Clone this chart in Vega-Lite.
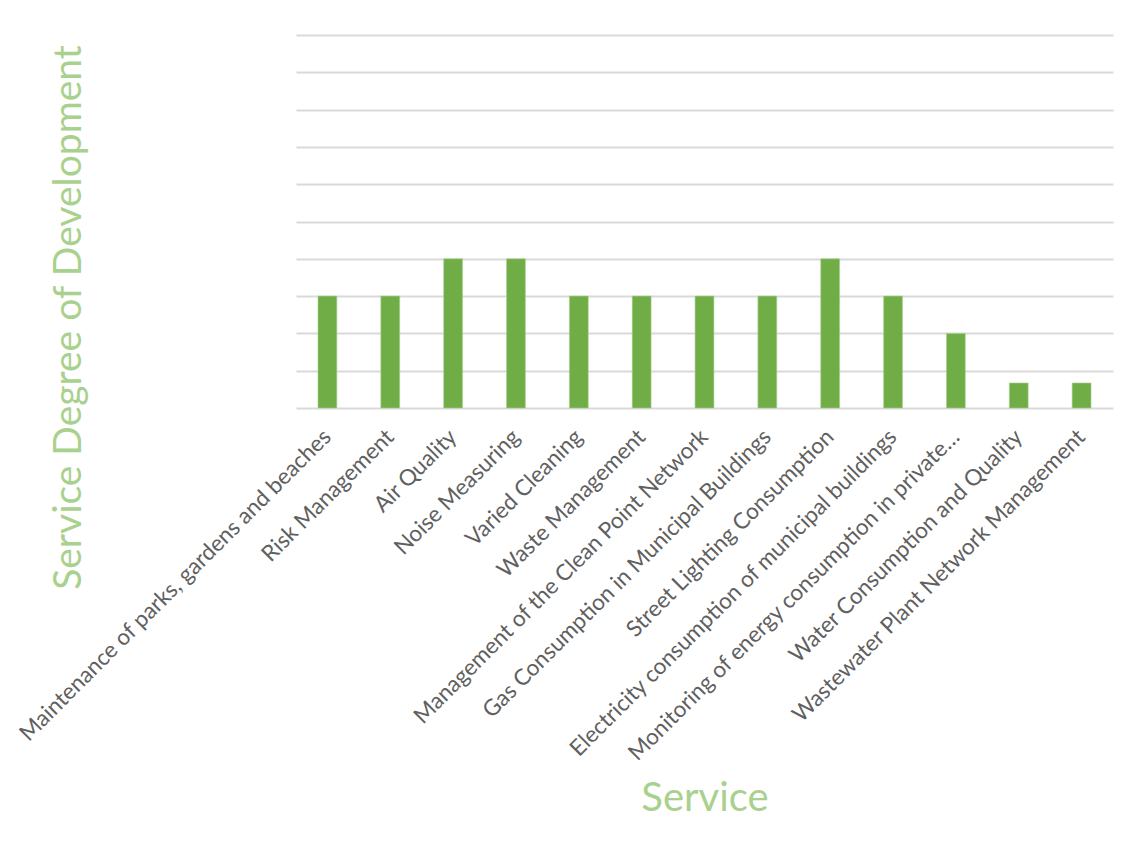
{
  "$schema": "https://vega.github.io/schema/vega-lite/v6.json",
  "width": 817,
  "height": 373,
  "autosize": {"type": "none"},
  "padding": {"left": 296, "top": 35, "right": 17, "bottom": 445},
  "background": "#ffffff",
  "config": {
    "view": {"stroke": null},
    "font": "Lato"
  },
  "data": {
    "values": [
      {"service": "Maintenance of parks, gardens and beaches", "degree": 3},
      {"service": "Risk Management", "degree": 3},
      {"service": "Air Quality", "degree": 4},
      {"service": "Noise Measuring", "degree": 4},
      {"service": "Varied Cleaning", "degree": 3},
      {"service": "Waste Management", "degree": 3},
      {"service": "Management of the Clean Point Network", "degree": 3},
      {"service": "Gas Consumption in Municipal Buildings", "degree": 3},
      {"service": "Street Lighting Consumption", "degree": 4},
      {"service": "Electricity consumption of municipal buildings", "degree": 3},
      {"service": "Monitoring of energy consumption in private…", "degree": 2},
      {"service": "Water Consumption and Quality", "degree": 0.67},
      {"service": "Wastewater Plant Network Management", "degree": 0.67}
    ]
  },
  "mark": {"type": "bar", "color": "#70AD47", "stroke": "#A9D18E", "strokeWidth": 0.6},
  "encoding": {
    "x": {
      "field": "service",
      "type": "nominal",
      "sort": null,
      "scale": {"paddingInner": 0.7, "paddingOuter": 0.35},
      "axis": {
        "title": "Service",
        "titleFont": "Lato",
        "titleFontSize": 40,
        "titleFontWeight": "normal",
        "titleColor": "#A9D18E",
        "titleBaseline": "middle",
        "titleY": 390,
        "labelAngle": -45,
        "labelAlign": "right",
        "labelBaseline": "middle",
        "labelFontSize": 22.5,
        "labelColor": "#606060",
        "labelPadding": 25,
        "labelLimit": 0,
        "domain": false,
        "ticks": false,
        "grid": false
      }
    },
    "y": {
      "field": "degree",
      "type": "quantitative",
      "scale": {"domain": [0, 10]},
      "axis": {
        "title": "Service Degree of Development",
        "titleFont": "Lato",
        "titleFontSize": 39,
        "titleFontWeight": "normal",
        "titleColor": "#A9D18E",
        "titleAngle": -90,
        "titleAlign": "center",
        "titleBaseline": "middle",
        "titleX": -228,
        "titleY": 282,
        "values": [0, 1, 2, 3, 4, 5, 6, 7, 8, 9, 10],
        "labels": false,
        "ticks": false,
        "domain": false,
        "grid": true,
        "gridColor": "#D9D9D9",
        "gridWidth": 2.2
      }
    }
  }
}
